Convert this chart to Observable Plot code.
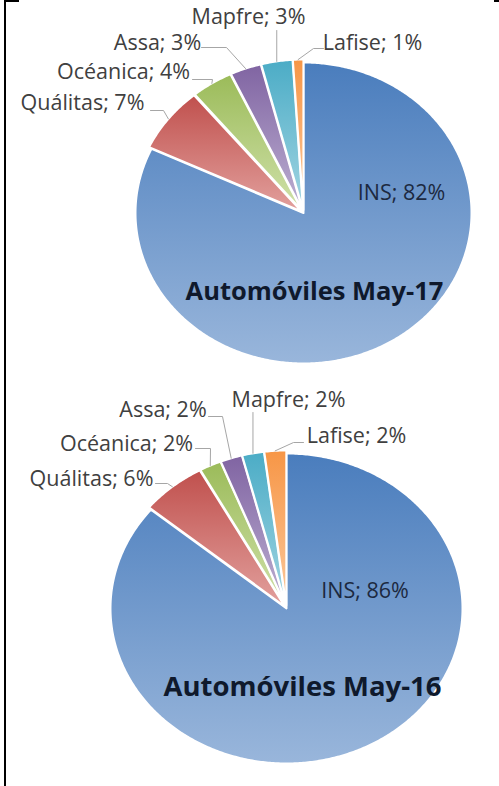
<!DOCTYPE html>
<html><head><meta charset="utf-8">
<script src="https://cdn.jsdelivr.net/npm/d3@7"></script>
<script src="https://cdn.jsdelivr.net/npm/@observablehq/plot@0.6"></script>
<style>
html,body{margin:0;padding:0;background:#fff;}
#wrap{position:relative;width:499px;height:786px;overflow:hidden;}
.frame{position:absolute;background:#000;}
#chart{position:absolute;left:0;top:0;}
</style></head><body>
<div id="wrap">
<div id="chart"></div>
<div class="frame" style="left:4px;top:0;width:2px;height:786px"></div>
<div class="frame" style="left:4px;top:0;width:15px;height:2px"></div>
<div class="frame" style="left:494px;top:0;width:5px;height:2px"></div>
</div>
<script>
// ---- data ----
const companies = ["INS", "Quálitas", "Océanica", "Assa", "Mapfre", "Lafise"];
const share2017 = [82, 7, 4, 3, 3, 1];
const share2016 = [86, 6, 2, 2, 2, 2];
const titles = ["Automóviles May-17", "Automóviles May-16"];

// ---- styles ----
const topColors = ["#4a7dbd", "#c0504d", "#9bbb59", "#8064a2", "#4bacc6", "#f79646"];
const bottomColors = ["#99b6db", "#e2a09d", "#d0e1aa", "#bdb0d2", "#a2d5e2", "#fbc89c"];

// ---- layout (pixel space: x 0..499, y 0..786 top-down) ----
const layout = [
  { cx: 303, cy: 212.5, rx: 168, ry: 150.5, titleSize: 25.5,
    inside: [401, 193], title: [314, 291],
    labels: [null, [82,103,150,110,163], [123,72,192,79,212], [157,43,201,47,226], [248,17,null,30,null], [372,43,323,48,313]] },
  { cx: 286, cy: 608, rx: 176, ry: 155, titleSize: 27.5,
    inside: [364.5, 591], title: [302, 687],
    labels: [null, [91,479,155,483,167], [126,444,195,448,210], [162.5,410,208,416,222], [288,400,null,412,null], [356,436,303,442,293]] }
];
const explode = 3;

const series = [share2017, share2016];
const marks = [];
const labelData = [], insideData = [], titleData = [], leaders = [];

series.forEach((vals, p) => {
  const L = layout[p];
  const total = d3.sum(vals);
  let acc = 0;
  vals.forEach((v, i) => {
    const f0 = acc / total, f1 = (acc + v) / total; acc += v;
    const a0 = 2 * Math.PI * f0, a1 = 2 * Math.PI * f1, am = (a0 + a1) / 2;
    const e = i === 0 ? 0 : explode;
    const ox = e * Math.sin(am), oy = -e * Math.cos(am);
    const pts = [{x: L.cx + ox, y: L.cy + oy}];
    const n = Math.max(4, Math.ceil((a1 - a0) / 0.01));
    for (let k = 0; k <= n; k++) {
      const a = a0 + (a1 - a0) * k / n;
      pts.push({x: L.cx + ox + L.rx * Math.sin(a), y: L.cy + oy - L.ry * Math.cos(a)});
    }
    marks.push(Plot.line(pts, {x: "x", y: "y", curve: "linear-closed", fill: `url(#grad${i})`,
      stroke: "white", strokeWidth: 2, strokeLinejoin: "round"}));
    const txt = `${companies[i]}; ${v}%`;
    if (i === 0) {
      insideData.push({x: L.inside[0], y: L.inside[1], t: txt});
    } else {
      const lb = L.labels[i];
      labelData.push({x: lb[0], y: lb[1], t: txt});
      const rimX = L.cx + ox + L.rx * Math.sin(am);
      const rimY = L.cy + oy - L.ry * Math.cos(am);
      const id = `${p}-${i}`;
      if (lb[2] === null) {
        leaders.push({x: rimX, y: lb[3], id}, {x: rimX, y: rimY, id});
      } else {
        leaders.push({x: lb[2], y: lb[3], id}, {x: lb[4], y: lb[3], id}, {x: rimX, y: rimY, id});
      }
    }
  });
  titleData.push({x: L.title[0], y: L.title[1], t: titles[p], s: L.titleSize});
});

marks.push(Plot.line(leaders, {x: "x", y: "y", z: "id", stroke: "#a6a6a6", strokeWidth: 1}));
marks.push(Plot.text(labelData, {x: "x", y: "y", text: "t", fill: "#404040",
  fontFamily: "Open Sans", fontSize: 21.5}));
marks.push(Plot.text(insideData, {x: "x", y: "y", text: "t", fill: "#1c2940",
  fontFamily: "Open Sans", fontSize: 21.5}));
titleData.forEach(d => marks.push(Plot.text([d], {x: "x", y: "y", text: "t", fill: "#0f192c",
  fontFamily: "Open Sans", fontSize: d.s, fontWeight: "bold"})));

const svg = Plot.plot({
  width: 499, height: 786, margin: 0,
  x: {domain: [0, 499], range: [0, 499], axis: null},
  y: {domain: [0, 786], range: [0, 786], axis: null},
  style: {background: "white"},
  marks
});
const defs = d3.select(svg).insert("defs", ":first-child");
topColors.forEach((c, i) => {
  const g = defs.append("linearGradient").attr("id", "grad" + i)
    .attr("x1", 0).attr("y1", 0).attr("x2", 0).attr("y2", 1);
  g.append("stop").attr("offset", 0).attr("stop-color", c);
  g.append("stop").attr("offset", 1).attr("stop-color", bottomColors[i]);
});
document.getElementById("chart").appendChild(svg);
</script>
</body></html>
